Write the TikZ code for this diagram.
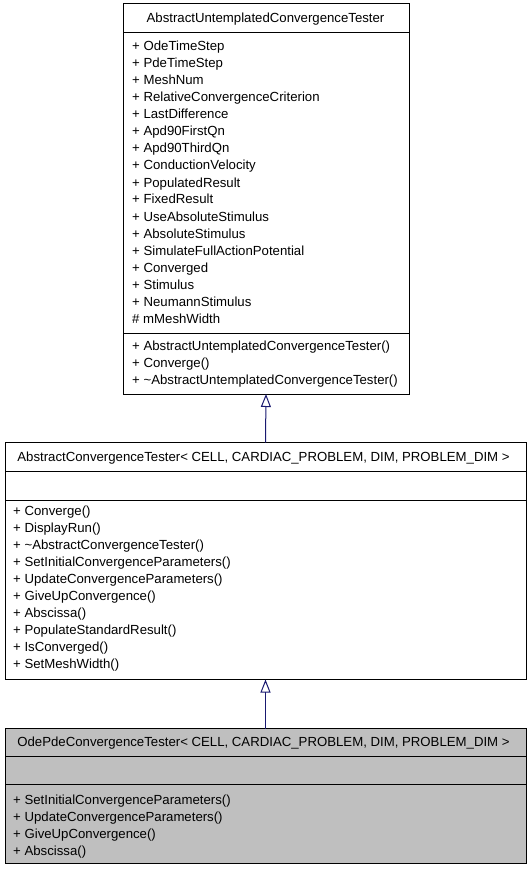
\documentclass[tikz,border=0pt]{standalone}
\usepackage{fontspec}
\setmainfont{Liberation Sans}
\usetikzlibrary{arrows.meta}
\definecolor{edgeblue}{HTML}{191970}
\definecolor{cellgrey}{HTML}{BFBFBF}
\tikzset{
  classbox/.style={draw=black, line width=1pt, rectangle, inner sep=0pt, outer sep=0pt, anchor=north west},
  member/.style={anchor=base west, inner sep=0pt, font=\fontsize{13.2}{15}\selectfont},
  title/.style={anchor=base, inner sep=0pt, font=\fontsize{13.2}{15}\selectfont},
  sep/.style={draw=black, line width=1pt},
  inherit/.style={draw=edgeblue, line width=1pt, -{Triangle[open, length=13pt, width=10pt, line width=1pt]}}
}
\begin{document}
\begin{tikzpicture}[x=1pt, y=-1pt]
\useasboundingbox (0,0) rectangle (531,869);
% ---- top class
\node[classbox, minimum width=286pt, minimum height=390pt] (base) at (123,4) {};
\node[title] (baset) at (265.5,22.7) {AbstractUntemplatedConvergenceTester};
\draw[sep] (123,32.5) -- (409,32.5);
\foreach \t [count=\i from 0] in {OdeTimeStep,PdeTimeStep,MeshNum,RelativeConvergenceCriterion,LastDifference,Apd90FirstQn,Apd90ThirdQn,ConductionVelocity,PopulatedResult,FixedResult,UseAbsoluteStimulus,AbsoluteStimulus,SimulateFullActionPotential,Converged,Stimulus,NeumannStimulus}
  \node[member] (ba\i) at (132,{51+17*\i}) {+ \t};
\node[member] (ba16) at (132,323) {\# mMeshWidth};
\draw[sep] (123,333.3) -- (409,333.3);
\node[member] (bm0) at (132,350.5) {+ AbstractUntemplatedConvergenceTester()};
\node[member] (bm1) at (132,367.5) {+ Converge()};
\node[member] (bm2) at (132,384.5) {+ \textasciitilde AbstractUntemplatedConvergenceTester()};
% ---- middle class
\node[classbox, minimum width=521pt, minimum height=237pt] (mid) at (5,442.5) {};
\node[title] (midt) at (263.5,461.7) {AbstractConvergenceTester< CELL, CARDIAC\_PROBLEM, DIM, PROBLEM\_DIM >};
\draw[sep] (5,471.5) -- (526,471.5);
\draw[sep] (5,500.5) -- (526,500.5);
\foreach \t [count=\i from 0] in {Converge(),DisplayRun(),\textasciitilde AbstractConvergenceTester(),SetInitialConvergenceParameters(),UpdateConvergenceParameters(),GiveUpConvergence(),Abscissa(),PopulateStandardResult(),IsConverged(),SetMeshWidth()}
  \node[member] (mm\i) at (13,{515.5+17*\i}) {+ \t};
% ---- bottom class
\node[classbox, fill=cellgrey, minimum width=521pt, minimum height=135pt] (odp) at (5,728.5) {};
\node[title] (odpt) at (263.5,746.7) {OdePdeConvergenceTester< CELL, CARDIAC\_PROBLEM, DIM, PROBLEM\_DIM >};
\draw[sep] (5,756.7) -- (526,756.7);
\draw[sep] (5,784.3) -- (526,784.3);
\foreach \t [count=\i from 0] in {SetInitialConvergenceParameters(),UpdateConvergenceParameters(),GiveUpConvergence(),Abscissa()}
  \node[member] (om\i) at (13,{804+17*\i}) {+ \t};
% ---- inheritance
\draw[inherit] (mid.north) -- (base.south);
\draw[inherit] (odp.north) -- (mid.south);
\end{tikzpicture}
\end{document}
